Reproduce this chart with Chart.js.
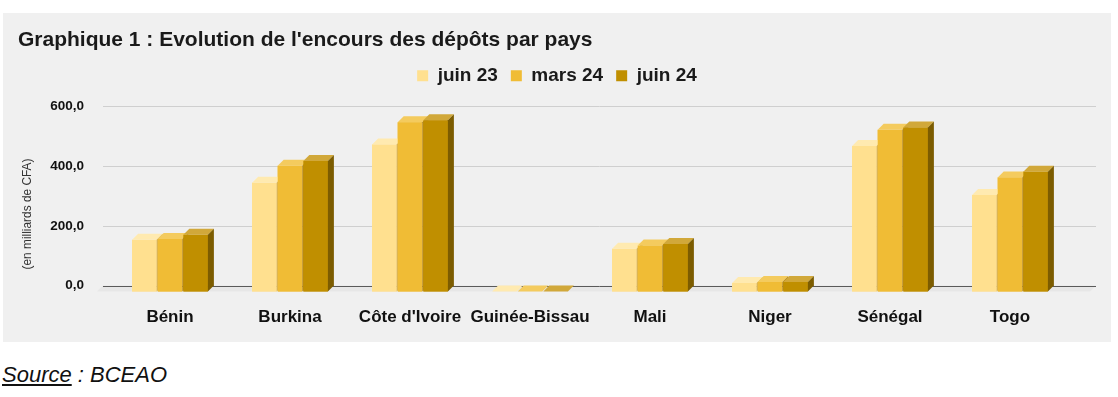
<!DOCTYPE html>
<html>
<head>
<meta charset="utf-8">
<script src="https://cdn.jsdelivr.net/npm/chart.js@4.4.1/dist/chart.umd.min.js"></script>
<style>
  html, body { margin: 0; padding: 0; background: #ffffff; }
  #wrap { position: absolute; left: 0; top: 0; width: 1118px; height: 356px; }
  #source { position: absolute; left: 2px; top: 364px; font: italic 22px "Liberation Sans", Arial, sans-serif; line-height: 22px; color: #111; white-space: nowrap; }
  #source u { text-decoration: underline; }
</style>
</head>
<body>
<div id="wrap"><canvas id="c"></canvas></div>
<div id="source"><u>Source</u> : BCEAO</div>
<script>
// ---- data ----
const categories = ['Bénin', 'Burkina', "Côte d'Ivoire", 'Guinée-Bissau', 'Mali', 'Niger', 'Sénégal', 'Togo'];
const seriesNames = ['juin 23', 'mars 24', 'juin 24'];
const juin23 = [173, 364, 492, 0, 143, 29, 487, 323];
const mars24 = [176, 421, 566, 0, 154, 32, 541, 382];
const juin24 = [190, 437, 573, 0, 159, 32, 549, 401];
const yTicks = [0, 200, 400, 600];

// ---- styles ----
const FONT = '"Liberation Sans", Arial, sans-serif';
const frontCol = ['#FFE08F', '#F0BC35', '#C08F00'];
const topCol = ['#FFEAB0', '#F4CB5E', '#D1A83A'];
const sideCol = ['#D6B25A', '#B5891B', '#7C5C00'];
const DEPTH = 6;

const panelPlugin = {
  id: 'panel',
  beforeDraw(chart) {
    const ctx = chart.ctx;
    ctx.save();
    ctx.fillStyle = '#f0f0f0';
    ctx.fillRect(3, 13, 1108, 329);
    ctx.restore();
  }
};

const legendPad = {
  id: 'legendPad',
  beforeLayout(chart) {
    const lg = chart.legend;
    if (lg && !lg._patched) {
      const orig = lg.fit;
      lg.fit = function () { orig.call(this); this.height += 17; };
      lg._patched = true;
    }
  },
  afterLayout(chart) {
    const lg = chart.legend;
    if (lg) { lg.left += 13; lg.right += 13; }
  }
};

const backWall = {
  id: 'backWall',
  beforeDatasetsDraw(chart) {
    const ctx = chart.ctx;
    const ys = chart.scales.y;
    const a = chart.chartArea;
    const L = a.left - 7, R = a.right + 26;
    ctx.save();
    const z = ys.getPixelForValue(0);
    ctx.fillStyle = '#e7e7e7';
    ctx.beginPath();
    ctx.moveTo(L, z - DEPTH);
    ctx.lineTo(R, z - DEPTH);
    ctx.lineTo(R - DEPTH, z);
    ctx.lineTo(L - DEPTH, z);
    ctx.closePath();
    ctx.fill();
    yTicks.forEach(v => {
      const py = Math.round(ys.getPixelForValue(v) - DEPTH) + 0.5;
      ctx.strokeStyle = v === 0 ? '#5a5a5a' : '#cfcfcf';
      ctx.lineWidth = 1;
      ctx.beginPath();
      ctx.moveTo(L, py);
      ctx.lineTo(R, py);
      ctx.stroke();
    });
    ctx.fillStyle = '#333';
    ctx.font = '11.9px ' + FONT;
    ctx.textAlign = 'center';
    ctx.textBaseline = 'middle';
    ctx.translate(28, 214);
    ctx.rotate(-Math.PI / 2);
    ctx.fillText('(en milliards de CFA)', 0, 0);
    ctx.restore();
  }
};

const bars3d = {
  id: 'bars3d',
  afterDatasetsDraw(chart) {
    const ctx = chart.ctx;
    ctx.save();
    chart.data.datasets.forEach((ds, di) => {
      const meta = chart.getDatasetMeta(di);
      meta.data.forEach(bar => {
        const p = bar.getProps(['x', 'y', 'base', 'width'], true);
        const l = p.x - p.width / 2, r = p.x + p.width / 2;
        const top = Math.min(p.y, p.base), bot = p.base;
        ctx.fillStyle = frontCol[di];
        ctx.fillRect(l, top, p.width, bot - top);
        ctx.fillStyle = topCol[di];
        ctx.beginPath();
        ctx.moveTo(l, top);
        ctx.lineTo(l + DEPTH, top - DEPTH);
        ctx.lineTo(r + DEPTH, top - DEPTH);
        ctx.lineTo(r, top);
        ctx.closePath();
        ctx.fill();
        ctx.fillStyle = sideCol[di];
        ctx.beginPath();
        ctx.moveTo(r, top);
        ctx.lineTo(r + DEPTH, top - DEPTH);
        ctx.lineTo(r + DEPTH, bot - DEPTH);
        ctx.lineTo(r, bot);
        ctx.closePath();
        ctx.fill();
      });
    });
    ctx.restore();
  }
};

const seriesValues = [juin23, mars24, juin24];

new Chart(document.getElementById('c'), {
  type: 'bar',
  data: {
    labels: categories,
    datasets: seriesNames.map((n, i) => ({
      label: n,
      data: seriesValues[i],
      backgroundColor: frontCol[i],
      borderWidth: 0,
      categoryPercentage: 0.64,
      barPercentage: 0.96
    }))
  },
  options: {
    responsive: true,
    maintainAspectRatio: false,
    animation: false,
    layout: { padding: { left: 18, right: 48, top: 14, bottom: 20 } },
    plugins: {
      title: {
        display: true,
        text: "Graphique 1 : Evolution de l'encours des dépôts par pays",
        align: 'start',
        color: '#1a1a1a',
        font: { family: FONT, size: 21, weight: 'bold' },
        padding: { top: 14, bottom: 0 }
      },
      legend: {
        display: true,
        position: 'top',
        align: 'center',
        labels: {
          boxWidth: 11,
          boxHeight: 11,
          padding: 13,
          color: '#1a1a1a',
          font: { family: FONT, size: 19, weight: 'bold' }
        }
      },
      tooltip: { enabled: false }
    },
    scales: {
      x: {
        grid: { display: false },
        border: { display: false },
        ticks: {
          color: '#111',
          padding: 8,
          maxRotation: 0,
          autoSkip: false,
          font: { family: FONT, size: 17, weight: 'bold' }
        }
      },
      y: {
        min: 0,
        max: 600,
        grid: { display: false },
        border: { display: false },
        afterFit(s) { s.width = 92; },
        afterBuildTicks(s) { s.ticks = yTicks.map(v => ({ value: v })); },
        ticks: {
          color: '#111',
          padding: 18,
          labelOffset: -6,
          font: { family: FONT, size: 13.5, weight: 'bold' },
          callback: v => v.toFixed(1).replace('.', ',')
        }
      }
    }
  },
  plugins: [panelPlugin, legendPad, backWall, bars3d]
});
</script>
</body>
</html>
